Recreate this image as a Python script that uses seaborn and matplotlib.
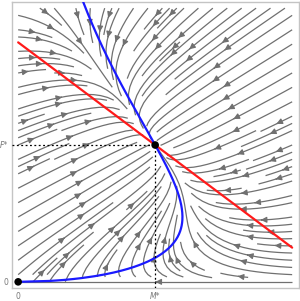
"""
Phase portrait: M-nullcline (blue), F-nullcline (red), equilibrium (M*, F*).
"""

import numpy as np
import matplotlib
matplotlib.use('Agg')
import matplotlib.pyplot as plt
import seaborn as sns

# ============================================================================
# DATA (equilibrium scaled to M* = F* = 1)
# ============================================================================
equilibrium_M = [1.0]
equilibrium_F = [1.0]
origin_M = [0.0]
origin_F = [0.0]

# F-nullcline (red straight line), end points
red_M = [0.0, 2.0]
red_F = [1.75, 0.25]

# M-nullcline parameters: M = c * sqrt(F) * exp(-k F)
NULL_C = 2.872
NULL_K = 1.055
# relative rate of F, and small saturation so F = 0 stays invariant
RATE_F = 0.6
EPS_F = 0.05

x_ticks = [0.0, 1.0]
x_tick_labels = ['0', 'M*']
y_ticks = [0.0, 1.0]
y_tick_labels = ['0', 'F*']

# ============================================================================
# MODEL
# ============================================================================
def m_nullcline(F):
    return NULL_C * np.sqrt(F) * np.exp(-NULL_K * F)

def f_nullcline(M):
    slope = (red_F[1] - red_F[0]) / (red_M[1] - red_M[0])
    return red_F[0] + slope * M

def field(M, F):
    dM = m_nullcline(F) - M
    dF = RATE_F * F / (F + EPS_F) * (f_nullcline(M) - F)
    return dM, dF

# ============================================================================
# PLOT
# ============================================================================
sns.set_style('white')
plt.rcParams['font.family'] = ['DejaVu Sans']

fig = plt.figure(figsize=(3.0, 3.01), dpi=100)
ax = fig.add_axes([12 / 300, 13 / 301, 287 / 300, 286 / 301])

grid = np.linspace(0, 2.0, 120)
MM, FF = np.meshgrid(grid, grid)
U, V = field(MM, FF)
ax.streamplot(MM, FF, U, V, density=1.3, color='#707070', linewidth=0.9,
              arrowsize=0.85, arrowstyle='-|>', zorder=1)

# nullclines
sns.lineplot(x=red_M, y=red_F, color='#ff1a1a', linewidth=1.6, ax=ax, zorder=3)
F_curve = np.linspace(0, 2.045, 300)
sns.lineplot(x=m_nullcline(F_curve), y=F_curve, sort=False, color='#1a1aff',
             linewidth=1.6, ax=ax, zorder=3)

# guides to the equilibrium
ax.plot([equilibrium_M[0], equilibrium_M[0]], [-0.045, equilibrium_F[0]],
        color='black', linestyle=(0, (1.5, 2)), linewidth=0.9, zorder=4)
ax.plot([-0.045, equilibrium_M[0]], [equilibrium_F[0], equilibrium_F[0]],
        color='black', linestyle=(0, (1.5, 2)), linewidth=0.9, zorder=4)

sns.scatterplot(x=equilibrium_M + origin_M, y=equilibrium_F + origin_F,
                color='black', s=30, edgecolor='none', ax=ax, zorder=5)

ax.set_xlim(-0.045, 2.05)
ax.set_ylim(-0.045, 2.045)
ax.set_xticks(x_ticks)
ax.set_xticklabels(x_tick_labels)
ax.set_yticks(y_ticks)
ax.set_yticklabels(y_tick_labels)
ax.tick_params(axis='both', direction='out', length=2, width=0.6,
               color='#aaaaaa', labelcolor='#777777', labelsize=5.5, pad=0.8)
for lab in ax.get_xticklabels()[1:] + ax.get_yticklabels()[1:]:
    lab.set_fontstyle('italic')
ax.set_xlabel('')
ax.set_ylabel('')
for spine in ax.spines.values():
    spine.set_color('#c4c4c4')
    spine.set_linewidth(1.0)

fig.savefig('out.png', dpi=100)
